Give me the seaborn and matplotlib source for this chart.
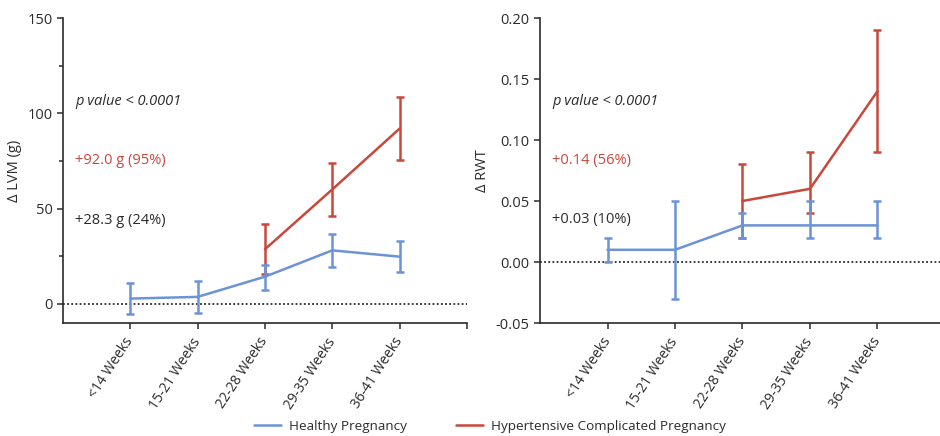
import matplotlib
matplotlib.use("Agg")
import matplotlib.pyplot as plt
from matplotlib.lines import Line2D
from matplotlib.ticker import MultipleLocator
import seaborn as sns
import pandas as pd

# Gestational windows
categories = ["<14 Weeks", "15-21 Weeks", "22-28 Weeks", "29-35 Weeks", "36-41 Weeks"]

# Change in LV mass (g): healthy pregnancy
lvm_healthy = [2.8, 3.7, 14.3, 28.1, 24.8]
lvm_healthy_lo = [-5.2, -4.7, 7.3, 19.6, 16.6]
lvm_healthy_hi = [11.0, 12.2, 20.6, 36.5, 33.0]
# Change in LV mass (g): hypertensive complicated pregnancy (from 22-28 weeks)
lvm_htn = [28.7, 60.1, 92.0]
lvm_htn_lo = [15.6, 46.0, 75.3]
lvm_htn_hi = [41.8, 74.1, 108.4]

# Change in relative wall thickness: healthy pregnancy
rwt_healthy = [0.01, 0.01, 0.03, 0.03, 0.03]
rwt_healthy_lo = [0.00, -0.03, 0.02, 0.02, 0.02]
rwt_healthy_hi = [0.02, 0.05, 0.04, 0.05, 0.05]
# Change in relative wall thickness: hypertensive complicated pregnancy
rwt_htn = [0.05, 0.06, 0.14]
rwt_htn_lo = [0.02, 0.04, 0.09]
rwt_htn_hi = [0.08, 0.09, 0.19]

group_labels = ["Healthy Pregnancy", "Hypertensive Complicated Pregnancy"]
lvm_notes = ["p value < 0.0001", "+92.0 g (95%)", "+28.3 g (24%)"]
rwt_notes = ["p value < 0.0001", "+0.14 (56%)", "+0.03 (10%)"]

BLUE = "#6b93d6"
RED = "#c8483c"
DARK = "#2b2b2b"

sns.set_theme(style="white")
plt.rcParams["font.family"] = ["Open Sans", "DejaVu Sans"]

fig = plt.figure(figsize=(9.4, 4.36), dpi=100)
ax1 = fig.add_axes([63 / 940, 1 - 323 / 436, 404 / 940, 305 / 436])
ax2 = fig.add_axes([540 / 940, 1 - 323 / 436, 405 / 940, 305 / 436])

xpos = list(range(1, len(categories) + 1))
xpos_htn = xpos[2:]


def build_frame(h, h_lo, h_hi, t, t_lo, t_hi):
    rows = []
    for x, m, lo, hi in zip(xpos, h, h_lo, h_hi):
        rows.append(dict(x=x, y=m, lo=lo, hi=hi, group=group_labels[0]))
    for x, m, lo, hi in zip(xpos_htn, t, t_lo, t_hi):
        rows.append(dict(x=x, y=m, lo=lo, hi=hi, group=group_labels[1]))
    return pd.DataFrame(rows)


def draw_panel(ax, df, ylim, yticks, ylabel, fmt, notes, note_y, minor=None):
    ax.axhline(0, color=DARK, lw=1.3, ls=(0, (1, 1.3)), zorder=1)
    palette = {group_labels[0]: BLUE, group_labels[1]: RED}
    # hypertensive bars sit underneath the healthy ones
    for g, z in zip(group_labels, [4, 3]):
        sub = df[df["group"] == g]
        ax.errorbar(sub["x"], sub["y"],
                    yerr=[sub["y"] - sub["lo"], sub["hi"] - sub["y"]],
                    fmt="none", ecolor=palette[g], elinewidth=1.8,
                    capsize=2.7, capthick=1.8, zorder=z)
    sns.lineplot(data=df, x="x", y="y", hue="group", palette=palette,
                 linewidth=1.8, legend=False, ax=ax, zorder=5, sort=True,
                 errorbar=None)
    ax.set_xlim(0, 6)
    ax.set_ylim(*ylim)
    ax.set_xticks(xpos + [6])
    ax.set_xticklabels(categories + [""], rotation=57, ha="right", va="center",
                       rotation_mode="anchor", fontsize=10, color=DARK)
    ax.set_yticks(yticks)
    ax.set_yticklabels([fmt.format(v) for v in yticks], fontsize=10.5, color=DARK)
    if minor is not None:
        ax.yaxis.set_minor_locator(MultipleLocator(minor))
        ax.tick_params(axis="y", which="minor", left=True, length=3, width=1.1, color=DARK)
    ax.tick_params(axis="y", which="major", length=4.5, width=1.1, color=DARK,
                   left=True, pad=3)
    ax.tick_params(axis="x", which="major", length=4.5, width=1.1, color=DARK,
                   bottom=True, pad=7)
    ax.set_xlabel("")
    ax.set_ylabel(ylabel, fontsize=10.5, color=DARK, labelpad=4)
    for s in ["top", "right"]:
        ax.spines[s].set_visible(False)
    for s in ["left", "bottom"]:
        ax.spines[s].set_color(DARK)
        ax.spines[s].set_linewidth(1.2)
    cols = [DARK, RED, DARK]
    styles = ["italic", "normal", "normal"]
    for txt, y, c, st in zip(notes, note_y, cols, styles):
        ax.text(0.18, y, txt, color=c, style=st, fontsize=10.5,
                ha="left", va="center")


lvm_df = build_frame(lvm_healthy, lvm_healthy_lo, lvm_healthy_hi,
                     lvm_htn, lvm_htn_lo, lvm_htn_hi)
rwt_df = build_frame(rwt_healthy, rwt_healthy_lo, rwt_healthy_hi,
                     rwt_htn, rwt_htn_lo, rwt_htn_hi)

draw_panel(ax1, lvm_df, (-10, 150), [0, 50, 100, 150], "Δ LVM (g)", "{:.0f}",
           lvm_notes, [106, 75, 44], minor=25)
draw_panel(ax2, rwt_df, (-0.05, 0.20), [-0.05, 0.0, 0.05, 0.10, 0.15, 0.20],
           "Δ RWT", "{:.2f}", rwt_notes, [0.1315, 0.083, 0.0345])

handles = [Line2D([], [], color=BLUE, lw=1.8), Line2D([], [], color=RED, lw=1.8)]
fig.legend(handles, group_labels, loc="center", bbox_to_anchor=(490 / 940, 1 - 426 / 436),
           ncol=2, frameon=False, fontsize=9.7, handlelength=2.0, columnspacing=3.6,
           handletextpad=0.6, labelcolor=DARK)

fig.savefig("out.png", dpi=100)
